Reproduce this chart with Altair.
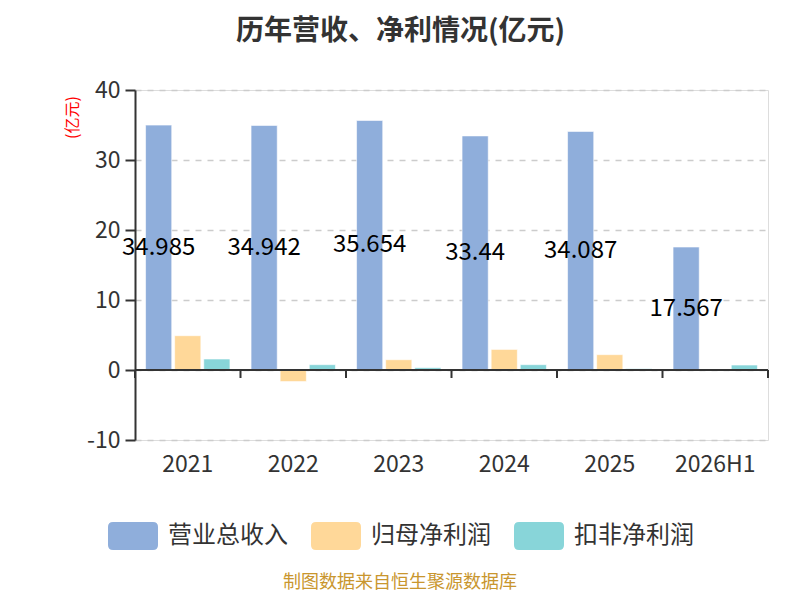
import altair as alt
import pandas as pd

FONT = "Noto Sans CJK SC"

years = ["2021", "2022", "2023", "2024", "2025", "2026H1"]
series = ["营业总收入", "归母净利润", "扣非净利润"]
revenue = [34.985, 34.942, 35.654, 33.44, 34.087, 17.567]
net_profit = [4.9, -1.65, 1.47, 2.94, 2.19, -0.12]
deducted = [1.57, 0.76, 0.33, 0.76, 0.19, 0.71]
revenue_labels = ["34.985", "34.942", "35.654", "33.44", "34.087", "17.567"]
colors = ["#8FAEDB", "#FFD899", "#88D5D9"]
title_text = "历年营收、净利情况(亿元)"
source_text = "制图数据来自恒生聚源数据库"

rows = []
for i, yr in enumerate(years):
    for s, vals in zip(series, [revenue, net_profit, deducted]):
        rows.append({"year": yr, "series": s, "value": vals[i],
                     "label": revenue_labels[i] if s == series[0] else ""})
df = pd.DataFrame(rows)
years_df = pd.DataFrame({"year": years})

W, H = 633, 350

x_enc = alt.X("year:N", sort=years,
              scale=alt.Scale(paddingInner=0, paddingOuter=0),
              axis=alt.Axis(title=None, domain=False, ticks=False, labelAngle=0,
                            labelFontSize=23, labelColor="#333", labelPadding=13,
                            labelFont=FONT))
xoff_enc = alt.XOffset("series:N", sort=series,
                       scale=alt.Scale(paddingInner=0.1, paddingOuter=0.3625))
y_enc = alt.Y("value:Q",
              scale=alt.Scale(domain=[-10, 40], nice=False, zero=False),
              axis=alt.Axis(values=[-10, 0, 10, 20, 30, 40], title="(亿元)",
                            labelExpr="'' + datum.value",
                            titleColor="red", titleFontSize=16, titleFontWeight="normal",
                            titleFont=FONT, titleAngle=-90, titleX=-63, titleY=27,
                            titleAlign="center", titleBaseline="middle",
                            grid=True, gridDash=[6, 6], gridColor="#cccccc", gridWidth=1.5,
                            domainColor="#333", domainWidth=2, tickColor="#333",
                            tickSize=10, tickWidth=2, labelFontSize=23, labelColor="#333",
                            labelPadding=5, labelFont=FONT))

sym = ("M-0.8,-0.56 L0.8,-0.56 Q1,-0.56 1,-0.36 L1,0.36 Q1,0.56 0.8,0.56 "
       "L-0.8,0.56 Q-1,0.56 -1,0.36 L-1,-0.36 Q-1,-0.56 -0.8,-0.56 Z")

bars = alt.Chart(df).mark_bar(stroke="white", strokeWidth=0.6).encode(
    x=x_enc,
    xOffset=xoff_enc,
    y=y_enc,
    color=alt.Color("series:N", sort=series,
                    scale=alt.Scale(domain=series, range=colors),
                    legend=alt.Legend(title=None, orient="none", legendX=-27, legendY=421,
                                      direction="horizontal", symbolType=sym,
                                      symbolSize=2500, symbolStrokeWidth=0,
                                      labelFontSize=24, labelColor="#333", labelFont=FONT,
                                      labelOffset=10, columnPadding=23)),
)

labels = alt.Chart(df).transform_filter(
    alt.datum.series == series[0]
).transform_calculate(mid="datum.value / 2").mark_text(
    fontSize=24, color="black", font=FONT
).encode(
    x=x_enc, xOffset=xoff_enc, y=alt.Y("mid:Q"), text=alt.Text("label:N")
)

zero_rule = alt.Chart(years_df).mark_rule(color="#333", strokeWidth=2).encode(
    y=alt.datum(0)
)

ticks = alt.Chart(years_df).mark_rule(color="#333", strokeWidth=2, y2Offset=8).encode(
    x=alt.X("year:N", sort=years, bandPosition=0),
    y=alt.datum(0), y2=alt.datum(0)
)
end_tick = alt.Chart(years_df).transform_filter(
    alt.datum.year == years[-1]
).mark_rule(color="#333", strokeWidth=2, y2Offset=8).encode(
    x=alt.X("year:N", sort=years, bandPosition=1),
    y=alt.datum(0), y2=alt.datum(0)
)

footer = alt.Chart(pd.DataFrame({"t": [source_text]})).mark_text(
    color="#C9962E", fontSize=18, font=FONT, baseline="bottom"
).encode(x=alt.value(265), y=alt.value(502), text="t:N")

chart = alt.layer(bars, labels, zero_rule, ticks, end_tick, footer).properties(
    width=W, height=H,
    title=alt.TitleParams(title_text, fontSize=28, fontWeight="bold", color="#333",
                          font=FONT, dx=-51, offset=33),
    autosize=alt.AutoSizeParams(type="none"),
    padding={"left": 127, "top": 82, "right": 24, "bottom": 152},
).configure_view(stroke=None).configure(font=FONT)

chart.save("out.html", embed_options={"renderer": "svg", "actions": False})
